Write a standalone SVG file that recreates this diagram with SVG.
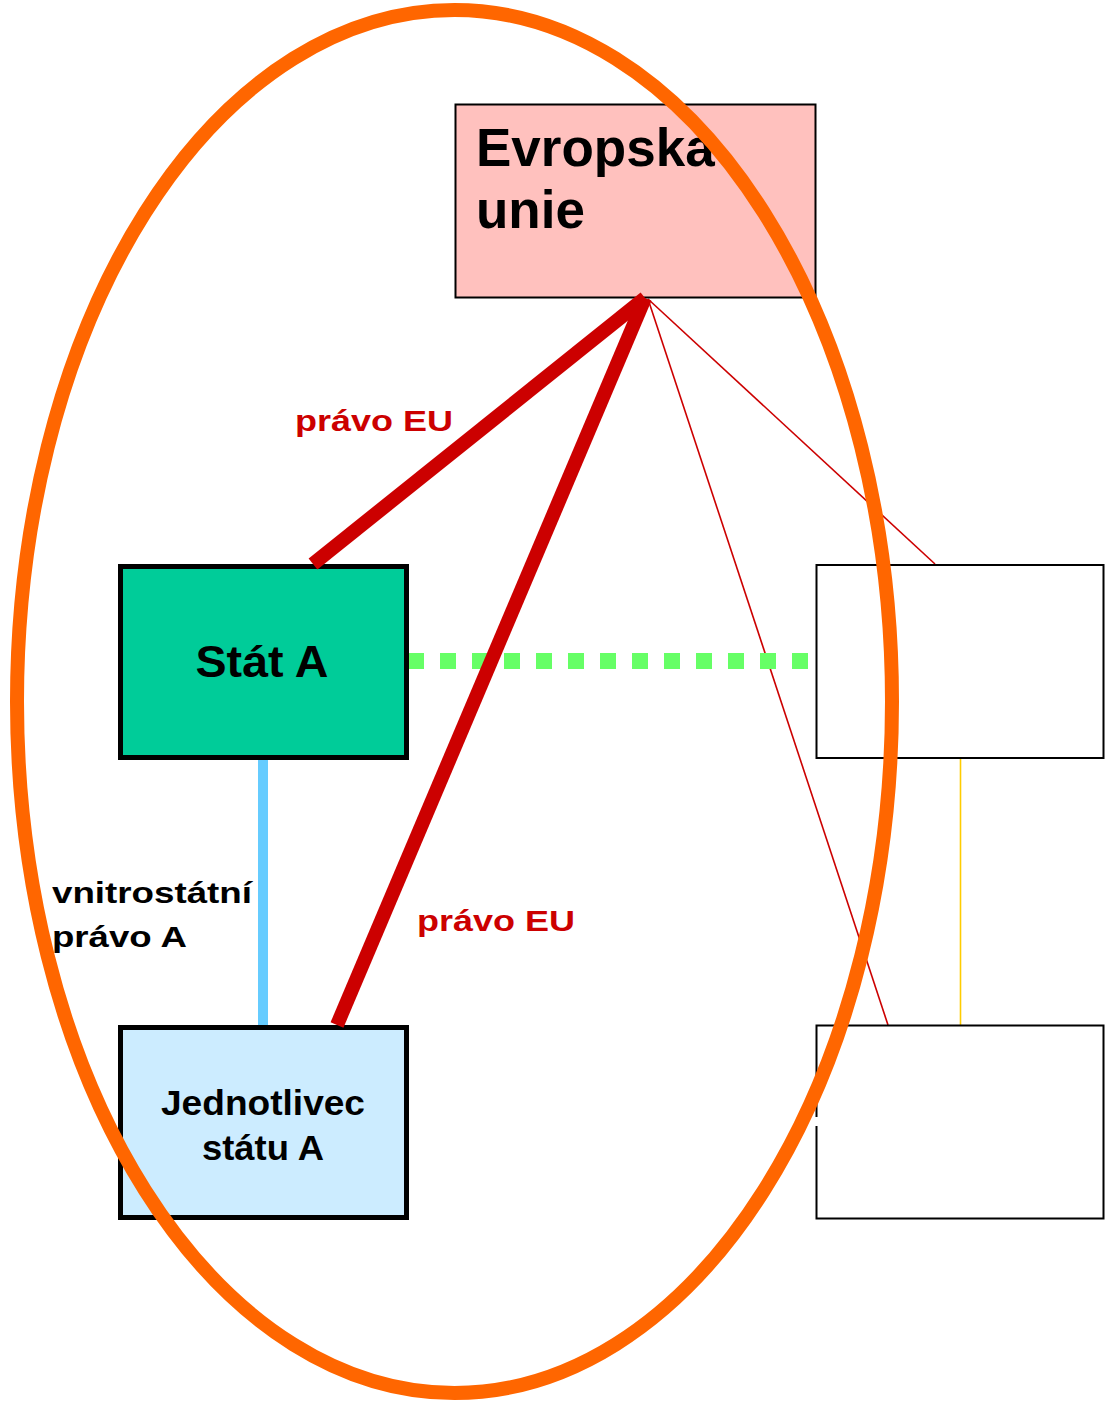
<svg xmlns="http://www.w3.org/2000/svg" width="1105" height="1404" viewBox="0 0 1105 1404">
<style>
  text { font-family: "Liberation Sans", Arial, sans-serif; font-weight: bold; }
  .lbl { fill: #000000; }
  .red { fill: #CC0000; }
  .eulaw { stroke: #CC0000; stroke-width: 14; stroke-linecap: butt; }
</style>
<rect width="1105" height="1404" fill="#FFFFFF"/>
<g id="connectors">
  <line x1="408" y1="1121" x2="819" y2="1121" stroke="#FFFFFF" stroke-width="8"/>
  <line x1="648" y1="299" x2="935" y2="564" stroke="#CC0000" stroke-width="1.6"/>
  <line x1="648" y1="299" x2="888" y2="1025" stroke="#CC0000" stroke-width="1.6"/>
  <line x1="408" y1="661" x2="808" y2="661" stroke="#66FF66" stroke-width="16" stroke-dasharray="16 16"/>
  <line x1="263" y1="759" x2="263" y2="1025" stroke="#66CCFF" stroke-width="10"/>
  <line x1="960.5" y1="759" x2="960.5" y2="1025" stroke="#FFCC00" stroke-width="1.6"/>
</g>
<g id="eu">
  <rect x="455.5" y="104.5" width="360" height="193" fill="#FFC1BE" stroke="#000000" stroke-width="2"/>
  <text class="lbl" x="476" y="166" font-size="53">Evropska</text>
  <text class="lbl" x="476" y="228" font-size="53">unie</text>
</g>
<g id="stat-a">
  <rect x="120.5" y="566.5" width="286" height="191" fill="#00CC99" stroke="#000000" stroke-width="5"/>
  <text class="lbl" x="262" y="677" font-size="44" text-anchor="middle" textLength="133" lengthAdjust="spacingAndGlyphs">Stát A</text>
</g>
<g id="jednotlivec">
  <rect x="120.5" y="1027.5" width="286" height="190" fill="#CCECFF" stroke="#000000" stroke-width="5"/>
  <text class="lbl" x="263" y="1115" font-size="35" text-anchor="middle" textLength="204" lengthAdjust="spacingAndGlyphs">Jednotlivec</text>
  <text class="lbl" x="263" y="1160" font-size="35" text-anchor="middle" textLength="122" lengthAdjust="spacingAndGlyphs">státu A</text>
</g>
<g id="stat-b">
  <rect x="816.5" y="565" width="287" height="193" fill="#FFFFFF" stroke="#000000" stroke-width="2"/>
</g>
<g id="jednotlivec-b">
  <rect x="816.5" y="1025.5" width="287" height="193" fill="#FFFFFF" stroke="#000000" stroke-width="2"/>
  <line x1="816.5" y1="1117" x2="816.5" y2="1126" stroke="#FFFFFF" stroke-width="3"/>
</g>
<g id="eu-law">
  <line class="eulaw" x1="645" y1="298" x2="313" y2="564"/>
  <line class="eulaw" x1="645" y1="298" x2="337" y2="1025"/>
</g>
<g id="labels">
  <text class="red" x="295" y="431" font-size="29" textLength="158" lengthAdjust="spacingAndGlyphs">právo EU</text>
  <text class="red" x="417" y="931" font-size="29" textLength="158" lengthAdjust="spacingAndGlyphs">právo EU</text>
  <text class="lbl" x="52" y="903" font-size="30" textLength="200" lengthAdjust="spacingAndGlyphs">vnitrostátní</text>
  <text class="lbl" x="52" y="947" font-size="30" textLength="135" lengthAdjust="spacingAndGlyphs">právo A</text>
</g>
<g id="ellipse">
  <ellipse cx="454.5" cy="701.5" rx="437.5" ry="691.5" fill="none" stroke="#FF6600" stroke-width="14"/>
</g>
</svg>
